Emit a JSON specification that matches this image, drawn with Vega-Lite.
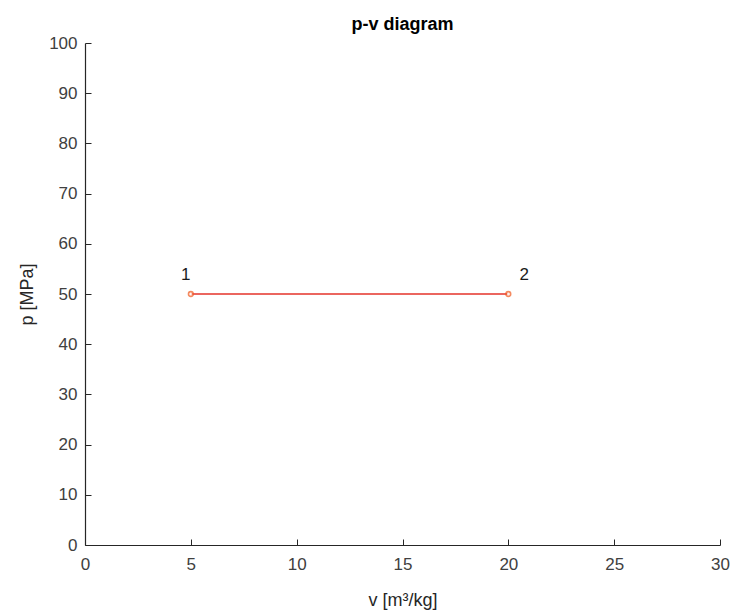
{
  "$schema": "https://vega.github.io/schema/vega-lite/v6.json",
  "width": 635,
  "height": 502,
  "autosize": {"type": "none"},
  "padding": {"left": 85, "top": 43, "right": 13, "bottom": 67},
  "background": "white",
  "title": {"text": "p-v diagram", "font": "Liberation Sans", "fontSize": 18, "fontWeight": "bold", "color": "#000000", "offset": 0, "anchor": "middle"},
  "config": {
    "view": {"stroke": null},
    "axis": {
      "grid": false,
      "domainColor": "#262626",
      "tickColor": "#262626",
      "labelColor": "#404040",
      "titleColor": "#262626",
      "labelFont": "Liberation Sans",
      "titleFont": "Liberation Sans",
      "labelFontSize": 17,
      "titleFontSize": 18,
      "titleFontWeight": "normal",
      "tickSize": -6,
      "labelFlush": false,
      "domainWidth": 1.2,
      "tickWidth": 1
    }
  },
  "data": {"values": [
    {"v": 5, "p": 50, "label": "1"},
    {"v": 20, "p": 50, "label": "2"}
  ]},
  "layer": [
    {
      "mark": {"type": "line", "color": "#e5332a", "strokeWidth": 1.5},
      "encoding": {
        "x": {"field": "v", "type": "quantitative", "scale": {"domain": [0, 30], "nice": false}, "axis": {"values": [0,5,10,15,20,25,30], "title": "v [m³/kg]", "labelPadding": 17, "titlePadding": 19}},
        "y": {"field": "p", "type": "quantitative", "scale": {"domain": [0, 100], "nice": false}, "axis": {"values": [0,10,20,30,40,50,60,70,80,90,100], "title": "p [MPa]", "labelPadding": 14, "titlePadding": 12}}
      }
    },
    {
      "mark": {"type": "point", "shape": "circle", "size": 22, "filled": true, "fill": "white", "stroke": "#f05a1e", "strokeWidth": 1.6},
      "encoding": {
        "x": {"field": "v", "type": "quantitative"},
        "y": {"field": "p", "type": "quantitative"}
      }
    },
    {
      "transform": [{"filter": "datum.label == '1'"}],
      "mark": {"type": "text", "font": "Liberation Sans", "fontSize": 17, "color": "#1a1a1a", "dx": -5, "dy": -19},
      "encoding": {
        "x": {"field": "v", "type": "quantitative"},
        "y": {"field": "p", "type": "quantitative"},
        "text": {"field": "label"}
      }
    },
    {
      "transform": [{"filter": "datum.label == '2'"}],
      "mark": {"type": "text", "font": "Liberation Sans", "fontSize": 17, "color": "#1a1a1a", "dx": 16, "dy": -19},
      "encoding": {
        "x": {"field": "v", "type": "quantitative"},
        "y": {"field": "p", "type": "quantitative"},
        "text": {"field": "label"}
      }
    }
  ]
}
